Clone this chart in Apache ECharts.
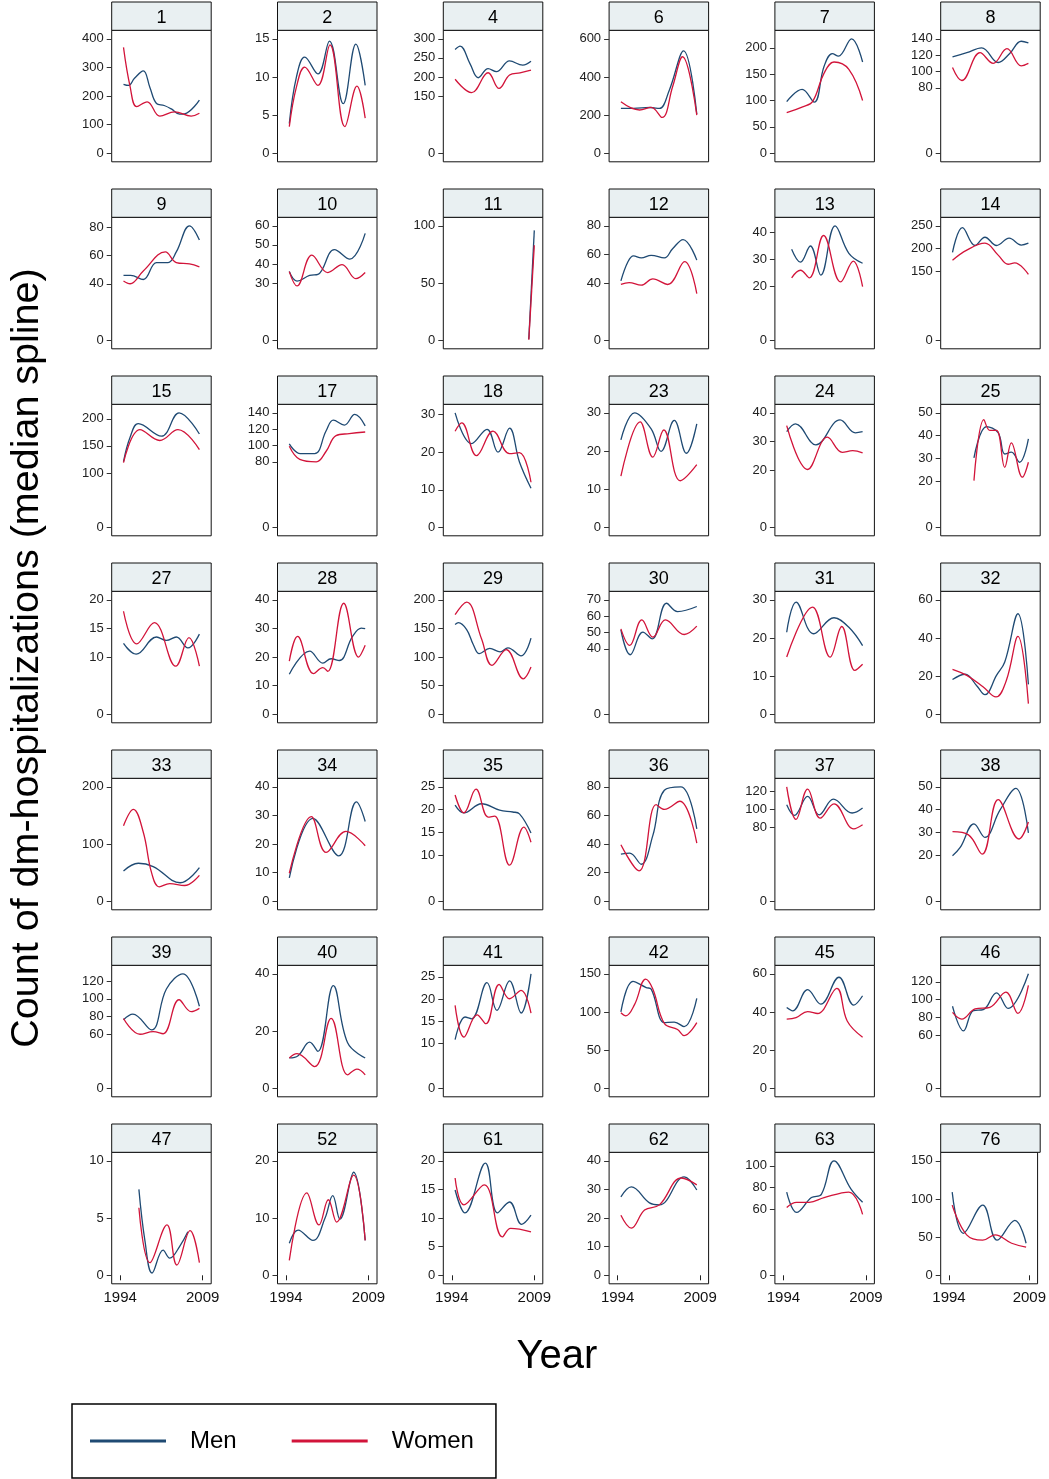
<!DOCTYPE html>
<html><head><meta charset="utf-8">
<script src="https://cdn.jsdelivr.net/npm/echarts@6/dist/echarts.min.js"></script>
<style>html,body{margin:0;padding:0;background:#fff}#c{width:1049px;height:1479px}</style>
</head><body><div id="c"></div>
<script>
// ---------------- DATA ----------------
const panelIds = ['1','2','4','6','7','8','9','10','11','12','13','14','15','17','18','23','24','25','27','28','29','30','31','32','33','34','35','36','37','38','39','40','41','42','45','46','47','52','61','62','63','76'];
const xTickLabels = [1994, 2009];
const yTicks = [
  [0,100,200,300,400],[0,5,10,15],[0,150,200,250,300],[0,200,400,600],[0,50,100,150,200],[0,80,100,120,140],
  [0,40,60,80],[0,30,40,50,60],[0,50,100],[0,40,60,80],[0,20,30,40],[0,150,200,250],
  [0,100,150,200],[0,80,100,120,140],[0,10,20,30],[0,10,20,30],[0,20,30,40],[0,20,30,40,50],
  [0,10,15,20],[0,10,20,30,40],[0,50,100,150,200],[0,40,50,60,70],[0,10,20,30],[0,20,40,60],
  [0,100,200],[0,10,20,30,40],[0,10,15,20,25],[0,20,40,60,80],[0,80,100,120],[0,20,30,40,50],
  [0,60,80,100,120],[0,20,40],[0,10,15,20,25],[0,50,100,150],[0,20,40,60],[0,60,80,100,120],
  [0,5,10],[0,10,20],[0,5,10,15,20],[0,10,20,30,40],[0,60,80,100],[0,50,100,150]
];
const menData = [
  /*1*/ [[1994.6,241],[1995.5,237],[1996.6,262],[1998.2,288],[1999.4,230],[2000.6,174],[2002.0,167],[2003.3,155],[2004.8,137],[2005.7,138],[2008.4,186]],
  /*2*/ [[1994.6,3.9],[1995.9,10],[1997.4,12.6],[1999.8,10.4],[2001.9,14.7],[2004.4,6.5],[2006.7,14.3],[2008.4,8.9]],
  /*4*/ [[1994.6,272],[1995.5,281],[1997.3,235],[1998.8,198],[2000.6,222],[2002.1,214],[2004.5,242],[2006.9,231],[2008.4,241]],
  /*6*/ [[1994.6,235],[1996.9,235],[1999.9,240],[2001.6,235],[2003.4,331],[2006.0,537],[2008.4,206]],
  /*7*/ [[1994.6,98],[1997.4,121],[1999.6,97],[2001.4,165],[2002.9,189],[2004.0,184],[2006.4,217],[2008.4,173]],
  /*8*/ [[1994.6,118],[1997.2,123],[1999.9,129],[2002.9,111],[2005.0,122],[2007.1,137],[2008.4,135]],
  /*9*/ [[1994.6,46],[1995.9,46],[1998.2,43],[2000.6,55],[2002.7,55],[2004.2,62.5],[2006.6,81],[2008.4,71]],
  /*10*/[[1994.6,36],[1996.0,31],[1998.3,34],[1999.8,34.5],[2002.8,47.5],[2005.6,42.5],[2008.4,56]],
  /*11*/[[2008,1],[2009,96]],
  /*12*/[[1994.6,41.5],[1995.9,55],[1996.9,59],[1998.3,57.6],[2000.1,59.4],[2002.5,57.6],[2004.0,64],[2005.9,70.4],[2008.4,56]],
  /*13*/[[1995.5,33.8],[1997.1,29],[1998.9,35],[2000.8,24.2],[2003.4,42.5],[2005.9,32.3],[2008.4,28.6]],
  /*14*/[[1994.6,192],[1996.4,246],[1998.7,207],[2000.5,225],[2002.6,207],[2004.9,223],[2007.1,208],[2008.4,212]],
  /*15*/[[1994.6,121],[1995.8,166],[1997.3,191],[2001.5,168],[2004.7,211],[2008.4,172]],
  /*17*/[[1994.6,102],[1996.6,90],[1999.2,90],[2001.3,118],[2002.6,131],[2004.6,125],[2006.5,138],[2008.4,124]],
  /*18*/[[1994.6,30.5],[1997.6,22.3],[2000.4,26.1],[2002.4,20],[2004.5,26.4],[2006.3,17.4],[2008.4,10.4]],
  /*23*/[[1994.6,22.9],[1997.1,30],[2000.1,25.8],[2001.9,19.9],[2004.3,28],[2006.5,19.4],[2008.4,27.1]],
  /*24*/[[1994.6,33.4],[1996.2,36.1],[1999.9,28.8],[2004.3,37.5],[2007.1,33],[2008.4,33.4]],
  /*25*/[[1998.5,30.3],[2000.8,44],[2002.9,41.3],[2004.1,32],[2005.3,32.8],[2006.8,28.4],[2008.4,38.6]],
  /*27*/[[1994.6,12.4],[1996.9,10.5],[2000.6,13.5],[2002.4,12.9],[2004.2,13.5],[2006.3,11.6],[2008.4,14]],
  /*28*/[[1994.6,14],[1998.3,22.1],[2000.7,17.9],[2002.2,19.4],[2003.7,18.8],[2006.1,27.2],[2007.7,30.1],[2008.4,29.9]],
  /*29*/[[1994.6,157],[1995.2,160],[1996.7,148],[1997.9,122],[1999.0,106],[2000.9,115],[2002.8,109],[2004.2,116],[2006.6,102],[2008.4,133]],
  /*30*/[[1994.6,51.6],[1996.3,36.4],[1998.6,50.2],[2000.3,46.1],[2002.9,67.9],[2004.9,62.8],[2008.4,65.9]],
  /*31*/[[1994.6,21.5],[1996.3,29.4],[1999.5,21.1],[2003.2,25.3],[2005.9,22.8],[2008.4,18]],
  /*32*/[[1994.6,18.2],[1996.9,21],[1999.0,15],[2000.5,10.3],[2002.6,20.4],[2004.1,27.4],[2006.5,52.7],[2008.4,15.7]],
  /*33*/[[1994.6,53],[1997.3,66.5],[2000.0,60.6],[2004.9,32.4],[2008.4,58.8]],
  /*34*/[[1994.6,8.2],[1998.9,29],[2003.6,15.9],[2006.8,34.7],[2008.4,27.9]],
  /*35*/[[1994.6,21],[1996.2,19.3],[1999.4,21.3],[2002.7,19.9],[2005.1,19.5],[2006.3,19.1],[2008.4,14.9]],
  /*36*/[[1994.6,33],[1996.2,33.6],[1998.3,25.9],[2000.4,45.9],[2002.5,77.6],[2005.5,80],[2008.4,50.6]],
  /*37*/[[1994.6,105],[1996.0,93.4],[1998.4,114],[2000.5,94],[2003.1,111],[2006.5,96],[2008.4,101.5]],
  /*38*/[[1994.6,19.9],[1996.0,23.5],[1998.5,33.8],[2000.5,27.9],[2003.2,39.7],[2006.1,49.3],[2008.4,29.9]],
  /*39*/[[1994.6,76.6],[1996.3,83],[1999.7,65.3],[2002.4,111],[2005.4,128],[2008.4,91.7]],
  /*40*/[[1994.6,10.6],[1996.2,11.4],[1998.3,16.1],[1999.8,12.9],[2002.6,35.9],[2005.2,15.9],[2008.4,10.6]],
  /*41*/[[1994.6,10.9],[1996.4,16],[1997.6,15.6],[2000.4,23.7],[2002.2,17.5],[2004.5,24.1],[2006.6,16.9],[2008.4,25.7]],
  /*42*/[[1994.6,100],[1996.8,140],[1999.2,132],[2000.1,130],[2002.5,86],[2004.3,86.7],[2006.1,80.7],[2008.4,117.8]],
  /*45*/[[1994.6,42.3],[1995.7,40.6],[1998.4,51.7],[2000.8,44.1],[2004.1,58.2],[2006.8,43.6],[2008.4,48.5]],
  /*46*/[[1994.6,92.4],[1996.6,64.6],[1998.4,87.5],[2000.2,88.6],[2002.6,107.6],[2004.7,90],[2008.4,129]],
  /*47*/[[1997.4,7.5],[1998.5,3],[1999.8,0.2],[2001.8,2.2],[2003.0,1.5],[2004.9,2.6],[2006.3,3.8]],
  /*52*/[[1994.6,5.6],[1996.2,7.9],[1998.9,6.1],[2001.1,10],[2002.5,13.9],[2003.8,9.8],[2006.3,18],[2008.4,6.1]],
  /*61*/[[1994.6,14.9],[1996.4,10.9],[2000.1,19.6],[2002.3,10.9],[2004.5,12.8],[2006.7,8.9],[2008.4,10.5]],
  /*62*/[[1994.6,27.4],[1996.5,30.9],[1999.8,25.3],[2001.6,24.6],[2006.1,34.4],[2008.4,29.8]],
  /*63*/[[1994.6,76],[1996.4,57.4],[1999.1,71],[2000.9,74],[2003.2,104.6],[2006.3,78.7],[2008.4,66.7]],
  /*76*/[[1994.6,109],[1996.7,55],[2000.3,92],[2003.0,46],[2006.3,72],[2008.4,42]]
];
const womenData = [
  /*1*/ [[1994.6,370],[1995.8,233],[1997.0,163],[1998.9,180],[2001.2,130],[2003.9,145],[2006.9,130],[2008.4,140]],
  /*2*/ [[1994.6,3.5],[1995.9,8.7],[1997.4,11.3],[1999.8,8.9],[2002.0,14.2],[2004.7,3.5],[2006.9,8.8],[2008.4,4.6]],
  /*4*/ [[1994.6,194],[1997.6,159],[2000.6,211],[2002.6,170],[2004.5,205],[2006.4,211],[2008.4,218]],
  /*6*/ [[1994.6,270],[1998.0,227],[2000.1,241],[2002.1,188],[2004.0,349],[2005.8,506],[2008.4,200]],
  /*7*/ [[1994.6,77],[1997.5,88],[1999.3,98],[2001.4,152],[2003.2,173],[2005.9,159],[2008.4,100]],
  /*8*/ [[1994.6,105],[1996.3,89],[1999.6,123],[2002.0,110],[2004.5,128],[2007.1,107],[2008.4,110]],
  /*9*/ [[1994.6,42],[1995.8,40],[1998.2,49],[2002.2,62.5],[2004.2,55],[2006.6,54],[2008.4,52]],
  /*10*/[[1994.6,36],[1996.0,28.5],[1998.7,44.6],[2001.6,35.5],[2004.2,39.7],[2006.7,32.3],[2008.4,35.5]],
  /*11*/[[2008,0.5],[2009,83]],
  /*12*/[[1994.6,39],[1996.1,40.3],[1998.3,38.5],[2000.4,42.9],[2003.1,39],[2006.2,55],[2008.4,32.6]],
  /*13*/[[1995.5,23.2],[1997.1,26],[1998.7,23.2],[2001.3,38.9],[2004.4,21.7],[2006.7,29.4],[2008.4,19.9]],
  /*14*/[[1994.6,175],[1997.2,197],[2000.5,212],[2002.9,186],[2004.7,166],[2005.9,169],[2008.4,144]],
  /*15*/[[1994.6,119],[1997.6,180],[2001.2,160],[2004.5,180],[2008.4,143]],
  /*17*/[[1994.6,99],[1996.5,83],[1999.5,80],[2001.3,93],[2003.1,112],[2005.5,114.5],[2008.4,116.5]],
  /*18*/[[1994.6,25.6],[1995.8,27.8],[1998.5,19.1],[2001.5,25.6],[2004.5,19.6],[2006.3,19.9],[2008.4,12]],
  /*23*/[[1994.6,13.4],[1998.1,27.6],[2000.4,18.4],[2002.4,25.5],[2005.4,12.2],[2008.4,16.4]],
  /*24*/[[1994.6,35.5],[1998.4,20.2],[2002.0,31.5],[2004.7,26.2],[2006.6,26.8],[2008.4,26]],
  /*25*/[[1998.5,20.4],[2000.3,47],[2001.4,42.3],[2002.6,42.3],[2004.1,26.2],[2005.3,36.9],[2007.3,21.9],[2008.4,28.4]],
  /*27*/[[1994.6,18],[1997.0,12.3],[2000.2,16],[2004.1,8.4],[2006.5,13.4],[2008.4,8.4]],
  /*28*/[[1994.6,18.6],[1996.1,27.2],[1999.0,14.2],[2000.7,16.3],[2001.6,15],[2004.5,38.8],[2007.2,20],[2008.4,24.1]],
  /*29*/[[1994.6,174],[1996.7,196],[1999.4,132],[2001.3,85.5],[2003.9,113],[2007.0,62],[2008.4,82.6]],
  /*30*/[[1994.6,52.2],[1996.2,42.1],[1998.4,57.7],[2000.4,47.2],[2002.7,57.7],[2006.1,48.8],[2008.4,53.9]],
  /*31*/[[1994.6,15],[1999.3,28.1],[2002.5,15],[2004.6,23],[2007.0,11.5],[2008.4,13.1]],
  /*32*/[[1994.6,23.6],[1997.2,20.4],[2000.2,14.3],[2002.5,9.1],[2004.4,17.8],[2006.5,40.8],[2008.4,5.6]],
  /*33*/[[1994.6,132],[1996.4,160.6],[1998.2,120.6],[1999.7,50],[2001.1,25.3],[2003.0,31],[2005.7,27.6],[2008.4,45.3]],
  /*34*/[[1994.6,9.8],[1998.6,29.6],[2001.3,17.1],[2004.9,24.4],[2008.4,19.4]],
  /*35*/[[1994.6,23.2],[1996.2,19.3],[1998.4,24.5],[2000.6,18.4],[2001.8,18.6],[2004.5,7.9],[2007.1,16.2],[2008.4,12.9]],
  /*36*/[[1994.6,39.5],[1997.9,21.2],[2001.0,67.5],[2002.5,64.2],[2005.3,69.9],[2008.4,40.7]],
  /*37*/[[1994.6,124.5],[1996.3,89],[1998.4,122],[2000.7,90.5],[2003.2,106],[2006.8,78.8],[2008.4,83.2]],
  /*38*/[[1994.6,30.4],[1997.5,29],[2000.0,20.6],[2002.9,44.4],[2006.7,27.2],[2008.4,34.6]],
  /*39*/[[1994.6,78],[1997.6,60.4],[2000.0,63.4],[2001.8,61],[2004.7,99],[2006.9,85.7],[2008.4,89.4]],
  /*40*/[[1994.6,10.6],[1996.0,12.1],[1999.2,7.6],[2002.2,24.4],[2005.2,4.7],[2006.9,6.7],[2008.4,4.7]],
  /*41*/[[1994.6,18.6],[1996.2,11.5],[1998.6,16.5],[2000.2,14.5],[2002.6,23.3],[2004.5,20.1],[2006.6,22],[2008.4,16.9]],
  /*42*/[[1994.6,99],[1995.5,95],[1997.1,110],[1999.1,143],[2000.4,130],[2002.5,85],[2004.9,77],[2006.1,69],[2008.4,86]],
  /*45*/[[1994.6,36.2],[1996.3,37],[1998.4,40.2],[2000.2,39.2],[2003.7,52.4],[2005.6,35.3],[2008.4,26.8]],
  /*46*/[[1994.6,85.6],[1996.3,78],[1998.7,89.4],[2001.4,91.3],[2004.3,108.4],[2006.5,84.4],[2008.4,116]],
  /*47*/[[1997.4,5.9],[1999.4,1.1],[2002.5,4.4],[2004.3,0.9],[2006.7,3.9],[2008.4,1.1]],
  /*52*/[[1994.6,2.6],[1997.8,14.4],[2000.0,8.8],[2001.7,13.2],[2003.2,9.3],[2006.3,17.5],[2008.4,6.1]],
  /*61*/[[1994.6,17],[1996.2,12.3],[1999.9,15.8],[2003.2,6.7],[2004.7,8.2],[2008.4,7.6]],
  /*62*/[[1994.6,21],[1996.5,16.5],[1998.9,22.8],[2001.6,24.6],[2005.6,34],[2008.4,31.6]],
  /*63*/[[1994.6,62],[1996.4,66.7],[1998.7,66.7],[2001.4,71],[2005.9,76],[2008.4,55.6]],
  /*76*/[[1994.6,92],[1997.3,53],[2000.3,46],[2002.6,53],[2005.7,42],[2008.4,37]]
];
const seriesNames = ['Men','Women'];
const seriesColors = ['#1f4a73','#d2143a'];
const yTitle = 'Count of dm-hospitalizations (median spline)';
const xTitle = 'Year';

// ---------------- LAYOUT ----------------
const FONT = '"Liberation Sans", Arial, Helvetica, sans-serif';
const NCOL = 6;
const colLeft0 = 111.7, colStep = 165.8, rowTop0 = 2, rowStep = 187.0;
const boxW = 99.5, hdrH = 28.3, plotH = 131.5, pad = 8.5;
const nRows = Math.ceil(panelIds.length / NCOL);

const grids = [], xAxes = [], yAxes = [], series = [], graphics = [];
const xPadYears = (xTickLabels[1] - xTickLabels[0]) * pad / (boxW - 2 * pad);

panelIds.forEach((id, i) => {
  const r = Math.floor(i / NCOL), c = i % NCOL;
  const left = colLeft0 + c * colStep;
  const top = rowTop0 + r * rowStep;
  const isBottom = r === nRows - 1;
  const ticks = yTicks[i];
  const dataMax = Math.max(...menData[i].map(p => p[1]), ...womenData[i].map(p => p[1]));
  const yTop = Math.max(ticks[ticks.length - 1], dataMax);
  const yPad = yTop * pad / (plotH - 2 * pad);

  grids.push({ left: left, top: top + hdrH, width: boxW, height: plotH, show: true,
    borderColor: '#111', borderWidth: 1, backgroundColor: '#fff', containLabel: false });
  xAxes.push({ type: 'value', gridIndex: i, min: xTickLabels[0] - xPadYears, max: xTickLabels[1] + xPadYears,
    axisLine: { show: false }, splitLine: { show: false },
    axisTick: { show: isBottom, customValues: xTickLabels, length: 5, lineStyle: { color: '#222' } },
    axisLabel: { show: isBottom, customValues: xTickLabels, fontSize: 15, color: '#111', margin: 7, fontFamily: FONT,
      formatter: v => String(Math.round(v)) } });
  yAxes.push({ type: 'value', gridIndex: i, min: -yPad, max: yTop + yPad,
    axisLine: { show: false }, splitLine: { show: false },
    axisTick: { show: true, customValues: ticks, length: 5, lineStyle: { color: '#333' } },
    axisLabel: { show: true, customValues: ticks, fontSize: 13, color: '#222', margin: 8, fontFamily: FONT,
      formatter: v => String(Math.round(v)) } });
  [menData[i], womenData[i]].forEach((d, k) => {
    series.push({ type: 'line', name: seriesNames[k], xAxisIndex: i, yAxisIndex: i, data: d,
      smooth: 0.4, symbol: 'none', showSymbol: false, silent: true, clip: true,
      color: seriesColors[k], lineStyle: { color: seriesColors[k], width: 1.3 } });
  });
  graphics.push({ type: 'rect', shape: { x: left, y: top, width: boxW, height: hdrH },
    style: { fill: '#e9f0f2', stroke: '#111', lineWidth: 1 }, silent: true });
  graphics.push({ type: 'text', x: left + boxW / 2, y: top + hdrH / 2 + 2,
    style: { text: id, font: '18px ' + FONT, fill: '#000', align: 'center', verticalAlign: 'middle' }, silent: true });
});

graphics.push({ type: 'text', x: 27, y: 658, rotation: Math.PI / 2,
  style: { text: yTitle, font: '39.5px ' + FONT, fill: '#000', align: 'center', verticalAlign: 'middle' } });
graphics.push({ type: 'text', x: 557, y: 1357,
  style: { text: xTitle, font: '40px ' + FONT, fill: '#000', align: 'center', verticalAlign: 'middle' } });

const chart = echarts.init(document.getElementById('c'), null, { renderer: 'canvas' });
chart.setOption({
  animation: false,
  backgroundColor: '#fff',
  grid: grids, xAxis: xAxes, yAxis: yAxes, series: series, graphic: graphics,
  legend: {
    data: seriesNames.map(n => ({ name: n, icon: 'rect' })),
    left: 72, top: 1404, orient: 'horizontal',
    itemWidth: 76, itemHeight: 3, itemGap: 55,
    padding: [25, 22, 25, 18],
    borderColor: '#000', borderWidth: 1.5,
    selectedMode: false,
    textStyle: { fontSize: 24, color: '#000', fontFamily: FONT, lineHeight: 24, padding: [0, 0, 0, 19] }
  }
});
</script></body></html>
